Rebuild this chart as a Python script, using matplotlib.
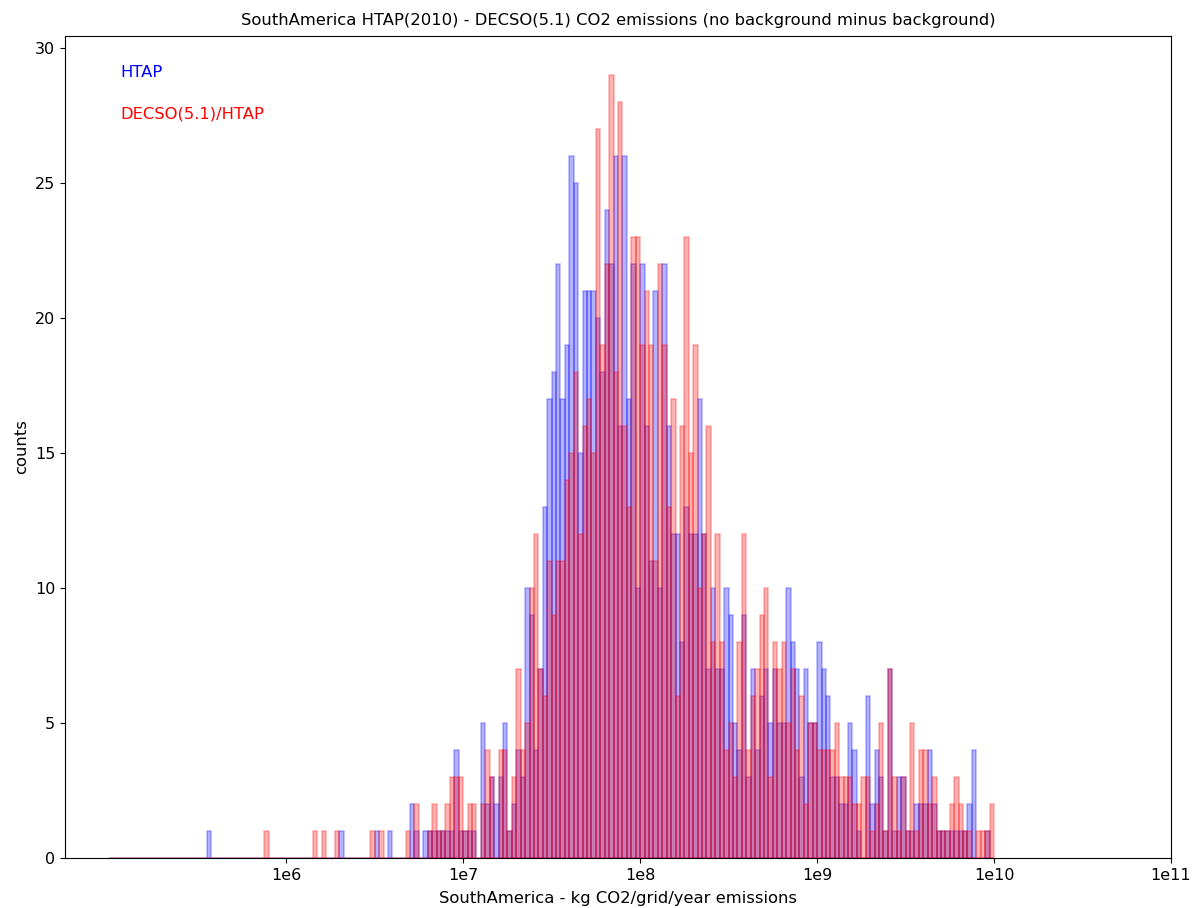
"""South America HTAP vs DECSO CO2 emission histogram (log10 bins)."""

import numpy as np
import matplotlib

matplotlib.use("Agg")
import matplotlib.pyplot as plt

# 200 bins of 0.025 in log10(kg CO2/grid/year), from 1e5 to 1e10
BIN_EDGES = np.linspace(5.0, 10.0, 201)

# counts per bin (index -> count, others are 0)
htap_nonzero = {
    22: 1, 52: 1, 60: 1, 63: 1, 68: 2, 69: 1, 71: 1, 72: 1, 73: 1, 74: 1,
    75: 1, 76: 1, 77: 1, 78: 4, 79: 1, 80: 1, 81: 1, 82: 1,
    84: 5, 85: 2, 86: 3, 87: 2, 88: 3, 89: 5, 90: 1, 91: 2, 92: 4, 93: 3,
    94: 10, 95: 9, 96: 4, 97: 7, 98: 13, 99: 17, 100: 18, 101: 22, 102: 17,
    103: 19, 104: 26, 105: 25, 106: 15, 107: 21, 108: 21, 109: 21, 110: 20,
    111: 18, 112: 24, 113: 22, 114: 26, 115: 16, 116: 26, 117: 17, 118: 22,
    119: 10, 120: 22, 121: 16, 122: 11, 123: 21, 124: 10, 125: 22, 126: 16,
    127: 12, 128: 12, 129: 8, 130: 13, 131: 12, 132: 12, 133: 17, 134: 12,
    135: 7, 136: 10, 137: 7, 138: 7, 139: 10, 140: 9, 141: 5, 142: 4,
    143: 9, 144: 3, 145: 7, 146: 4, 147: 6, 148: 7, 149: 5, 150: 7, 151: 5,
    152: 5, 153: 10, 154: 8, 155: 7, 156: 3, 157: 7, 158: 5, 159: 5,
    160: 8, 161: 7, 162: 6, 163: 3, 164: 3, 165: 2, 166: 2, 167: 5, 168: 4,
    169: 1, 171: 6, 172: 2, 173: 4, 174: 3, 175: 1, 176: 7, 177: 1,
    178: 3, 179: 3, 180: 1, 181: 1, 182: 2, 183: 2, 184: 2, 185: 4, 186: 2,
    187: 1, 188: 1, 189: 1, 190: 1, 191: 1, 192: 1, 193: 1, 194: 2, 195: 4,
    198: 1,
}
decso_nonzero = {
    35: 1, 46: 1, 48: 1, 51: 1, 59: 1, 61: 1, 67: 1, 69: 2, 72: 1, 73: 2,
    74: 1, 75: 1, 76: 2, 77: 3, 78: 3, 79: 3, 80: 1, 81: 2, 82: 2,
    84: 2, 85: 4, 86: 3, 88: 4, 89: 4, 90: 1, 91: 3, 92: 7, 93: 4, 94: 5,
    95: 10, 96: 12, 97: 7, 98: 6, 99: 11, 100: 9, 101: 11, 102: 11, 103: 14,
    104: 15, 105: 18, 106: 12, 107: 16, 108: 17, 109: 15, 110: 27, 111: 19,
    112: 22, 113: 29, 114: 18, 115: 28, 116: 16, 117: 13, 118: 23, 119: 23,
    120: 19, 121: 21, 122: 19, 123: 11, 124: 22, 125: 19, 126: 13, 127: 17,
    128: 6, 129: 16, 130: 23, 131: 15, 132: 19, 133: 10, 134: 12, 135: 16,
    136: 8, 137: 12, 138: 8, 139: 4, 140: 5, 141: 3, 142: 8, 143: 12,
    144: 4, 145: 6, 146: 7, 147: 9, 148: 10, 149: 3, 150: 8, 151: 7, 152: 8,
    153: 5, 154: 7, 155: 4, 156: 6, 157: 2, 158: 5, 159: 5, 160: 4, 161: 4,
    162: 4, 163: 4, 164: 5, 165: 3, 166: 3, 167: 3, 168: 2, 169: 2, 170: 3,
    171: 3, 172: 1, 173: 2, 174: 5, 175: 1, 176: 7, 177: 3, 178: 1, 179: 3,
    180: 1, 181: 5, 182: 1, 183: 4, 184: 4, 185: 2, 186: 3, 187: 1, 188: 1,
    189: 1, 190: 2, 191: 3, 192: 2, 193: 1, 194: 1, 196: 1, 197: 1, 198: 1,
    199: 2,
}

xtick_pos = [6, 7, 8, 9, 10, 11]
xtick_labels = ["1e6", "1e7", "1e8", "1e9", "1e10", "1e11"]


def _counts(nonzero: dict) -> np.ndarray:
    c = np.zeros(len(BIN_EDGES) - 1)
    for i, v in nonzero.items():
        c[i] = v
    return c


def main() -> None:
    centers = 0.5 * (BIN_EDGES[:-1] + BIN_EDGES[1:])
    htap = _counts(htap_nonzero)
    decso = _counts(decso_nonzero)

    fig = plt.figure(figsize=(11.92, 9.08), dpi=100)
    ax = fig.add_axes([65 / 1192, 50 / 908, 1106 / 1192, 822 / 908])

    ax.hist(centers, bins=BIN_EDGES, weights=htap, color="blue", alpha=0.3,
            edgecolor="blue", linewidth=1.1)
    ax.hist(centers, bins=BIN_EDGES, weights=decso, color="red", alpha=0.3,
            edgecolor="red", linewidth=1.1)

    ax.text(0.05, 0.95, "HTAP", color="blue", fontsize=11.8, transform=ax.transAxes)
    ax.text(0.05, 0.90, "DECSO(5.1)/HTAP", color="red", fontsize=11.8,
            transform=ax.transAxes)

    ax.set_xticks(xtick_pos)
    ax.set_xticklabels(xtick_labels)
    ax.set_xlim(4.75, 11)
    ax.set_ylim(0, 30.45)
    ax.tick_params(labelsize=11.5)
    ax.set_xlabel("SouthAmerica - kg CO2/grid/year emissions", fontsize=11.8, labelpad=6)
    ax.set_ylabel("counts", fontsize=11.8)
    ax.set_title("SouthAmerica HTAP(2010) - DECSO(5.1) CO2 emissions "
                 "(no background minus background)", fontsize=11.8, pad=8)

    fig.savefig("out.png", dpi=100)
    plt.close(fig)


if __name__ == "__main__":
    main()
